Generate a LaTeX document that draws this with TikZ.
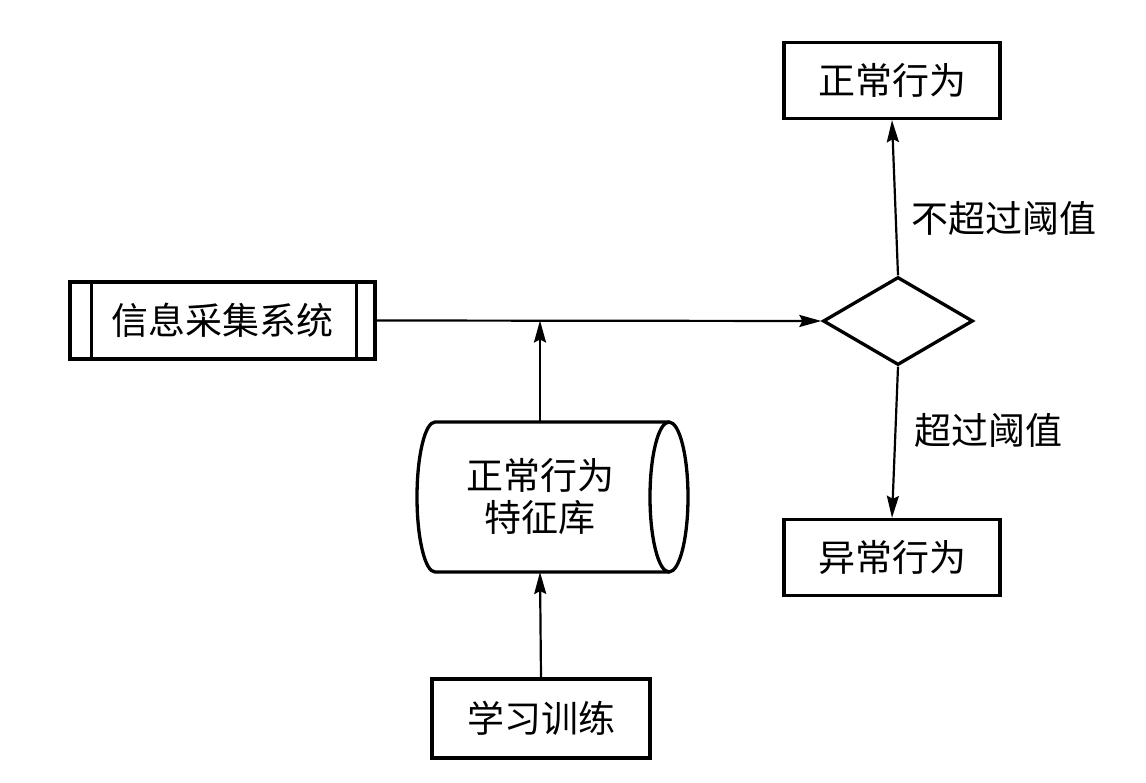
\documentclass[tikz,border=0pt]{standalone}
\usepackage{fontspec}
\newfontfamily\cjk{Noto Sans CJK SC}
\usetikzlibrary{arrows.meta,shapes.geometric}
\begin{document}
\begin{tikzpicture}[x=1pt,y=-1pt,
  box/.style={draw,line width=3.3pt,rectangle,minimum width=#1,minimum height=76pt,inner sep=0pt,font=\cjk\fontsize{37}{42}\selectfont},
  box/.default=216pt,
  lbl/.style={font=\cjk\fontsize{37}{42}\selectfont,inner sep=0pt},
  conn/.style={line width=2.2pt,-{Stealth[length=22pt,width=12pt,inset=3pt]}},
  thick border/.style={line width=3.3pt}]
\useasboundingbox (0,0) rectangle (1146,783);
% info collection system
\node[box=305pt,minimum height=77pt] (info) at (222.5,320.5) {信息采集系统};
\draw[thick border] ([xshift=23pt]info.north west) -- ([xshift=23pt]info.south west);
\draw[thick border] ([xshift=-20pt]info.north east) -- ([xshift=-20pt]info.south east);
% diamond
\node[diamond,draw,thick border,minimum width=150pt,minimum height=88pt,inner sep=0pt,aspect=1.7] (dec) at (898,321) {};
% top and bottom boxes
\node[box] (normal) at (892,80.5) {正常行为};
\node[box] (abnormal) at (892,557.5) {异常行为};
\node[box=218pt,minimum height=79pt] (learn) at (541,718.5) {学习训练};
% cylinder
\node[lbl,align=center] (db) at (540,497) {正常行为\\特征库};
\coordinate (ctl) at (435,422);
\coordinate (ctr) at (669,422);
\coordinate (cbl) at (435,572);
\coordinate (cbr) at (669,572);
\coordinate (ctop) at (540,422);
\coordinate (cbot) at (540,572);
\draw[thick border] (ctr) -- (ctl) arc[start angle=90,end angle=270,x radius=18pt,y radius=75pt] -- (cbr);
\draw[thick border] (669,497) ellipse[x radius=19pt,y radius=75pt];
% junction
\coordinate (junc) at (540,320.5);
\draw[conn] (info.east) -- (dec.west);
\draw[conn] (ctop) -- (junc);
\draw[conn] (learn.north) -- (cbot);
\draw[conn] (dec.north) -- (normal.south);
\draw[conn] (dec.south) -- (abnormal.north);
\node[lbl,anchor=west] (l1) at (911,218) {不超过阈值};
\node[lbl,anchor=west] (l2) at (914,430) {超过阈值};
\end{tikzpicture}
\end{document}
